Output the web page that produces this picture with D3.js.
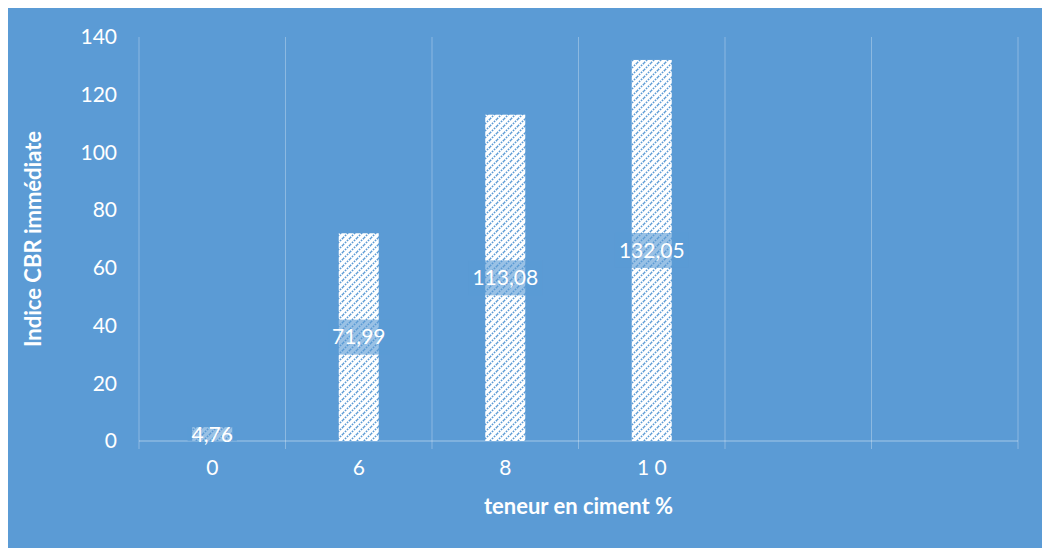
<!DOCTYPE html>
<html>
<head>
<meta charset="utf-8">
<script src="https://cdn.jsdelivr.net/npm/d3@7"></script>
<style>
  html, body { margin: 0; padding: 0; background: #ffffff; }
  svg { display: block; }
  text { font-family: Lato, "Open Sans", sans-serif; }
</style>
</head>
<body>
<svg id="chart" width="1042" height="548"></svg>
<script>
// Cement content categories (the last two slots are empty)
const categories = ["0", "6", "8", "1 0", "", ""];
// Immediate CBR index per cement content
const cbrValues = [4.76, 71.99, 113.08, 132.05];
const valueLabels = ["4,76", "71,99", "113,08", "132,05"];
const yTicks = [0, 20, 40, 60, 80, 100, 120, 140];

const W = 1042, H = 548;
const bg = "#5b9bd5";
const margin = { left: 139, right: 24, top: 37, bottom: 107 };
const font = "Lato, 'Open Sans', sans-serif";

const svg = d3.select("#chart");

// chart background panel
svg.append("rect")
  .attr("x", 8).attr("y", 8)
  .attr("width", W - 8).attr("height", H - 8)
  .attr("fill", bg);

// diagonal hatch fill for the bars
const defs = svg.append("defs");
const P = 7;
const pat = defs.append("pattern")
  .attr("id", "hatch")
  .attr("patternUnits", "userSpaceOnUse")
  .attr("width", P).attr("height", P);
pat.append("rect").attr("width", P).attr("height", P).attr("fill", "#ffffff");
pat.append("path")
  .attr("d", `M-1,1 l2,-2 M0,${P} l${P},-${P} M${P - 1},${P + 1} l2,-2`)
  .attr("stroke", bg)
  .attr("stroke-width", 1.6)
  .attr("stroke-dasharray", "1.6,1.2");

const x = d3.scaleBand()
  .domain(categories.map((d, i) => i))
  .range([margin.left, W - margin.right])
  .paddingInner(0).paddingOuter(0);

const y = d3.scaleLinear()
  .domain([0, 140])
  .range([H - margin.bottom, margin.top]);

const gridColor = "rgba(255,255,255,0.3)";

// vertical gridlines at category boundaries
const bounds = d3.range(categories.length + 1).map(i =>
  i < categories.length ? x(i) : x(categories.length - 1) + x.bandwidth());
svg.append("g").selectAll("line")
  .data(bounds)
  .join("line")
  .attr("x1", d => d).attr("x2", d => d)
  .attr("y1", y(140)).attr("y2", y(0) + 8)
  .attr("stroke", gridColor)
  .attr("stroke-width", 1);

// category axis baseline
svg.append("line")
  .attr("x1", x(0)).attr("x2", bounds[bounds.length - 1])
  .attr("y1", y(0)).attr("y2", y(0))
  .attr("stroke", gridColor)
  .attr("stroke-width", 1.5);

// y axis tick labels
const yAxis = d3.axisLeft(y).tickValues(yTicks).tickSize(0).tickPadding(0);
const gy = svg.append("g")
  .attr("transform", `translate(${margin.left - 22},0)`)
  .call(yAxis);
gy.select(".domain").remove();
gy.selectAll("text")
  .attr("fill", "#ffffff")
  .style("font-size", "21px")
  .style("font-family", font);

// x axis tick labels
const xAxis = d3.axisBottom(x).tickFormat(i => categories[i]).tickSize(0).tickPadding(0);
const gx = svg.append("g")
  .attr("transform", `translate(0,${y(0) + 19})`)
  .call(xAxis);
gx.select(".domain").remove();
gx.selectAll("text")
  .attr("fill", "#ffffff")
  .style("font-size", "21px")
  .style("font-family", font);

// bars
const barW = 40;
svg.append("g").selectAll("rect")
  .data(cbrValues)
  .join("rect")
  .attr("x", (d, i) => x(i) + x.bandwidth() / 2 - barW / 2)
  .attr("y", d => y(d))
  .attr("width", barW)
  .attr("height", d => y(0) - y(d))
  .attr("fill", "url(#hatch)");

// value labels centred in each bar, with a translucent label box
const labels = svg.append("g").selectAll("g")
  .data(cbrValues)
  .join("g")
  .attr("transform", (d, i) => {
    const cy = d < 10 ? y(0) - 6 : (y(d) + y(0)) / 2;
    return `translate(${x(i) + x.bandwidth() / 2},${cy})`;
  });
labels.each(function (d, i) {
  const g = d3.select(this);
  const t = g.append("text")
    .attr("text-anchor", "middle")
    .attr("dy", "0.35em")
    .attr("fill", "#ffffff")
    .style("font-size", "21px")
    .text(valueLabels[i]);
  const bb = t.node().getBBox();
  const boxH = d < 10 ? 14 : 35;
  g.insert("rect", "text")
    .attr("x", bb.x - 4)
    .attr("y", d < 10 ? -(y(0) - y(d)) / 2 - 1 : -boxH / 2)
    .attr("width", bb.width + 8)
    .attr("height", boxH)
    .attr("fill", bg)
    .attr("fill-opacity", 0.62);
});

// axis titles
svg.append("text")
  .attr("x", (x(0) + bounds[bounds.length - 1]) / 2)
  .attr("y", 506)
  .attr("text-anchor", "middle")
  .attr("dy", "0.35em")
  .attr("fill", "#ffffff")
  .style("font-size", "22px")
  .style("font-weight", "bold")
  .text("teneur en ciment %");

svg.append("text")
  .attr("transform", `translate(33,${(y(0) + y(140)) / 2}) rotate(-90)`)
  .attr("text-anchor", "middle")
  .attr("dy", "0.35em")
  .attr("fill", "#ffffff")
  .style("font-size", "22px")
  .style("font-weight", "bold")
  .text("Indice CBR immédiate");
</script>
</body>
</html>
